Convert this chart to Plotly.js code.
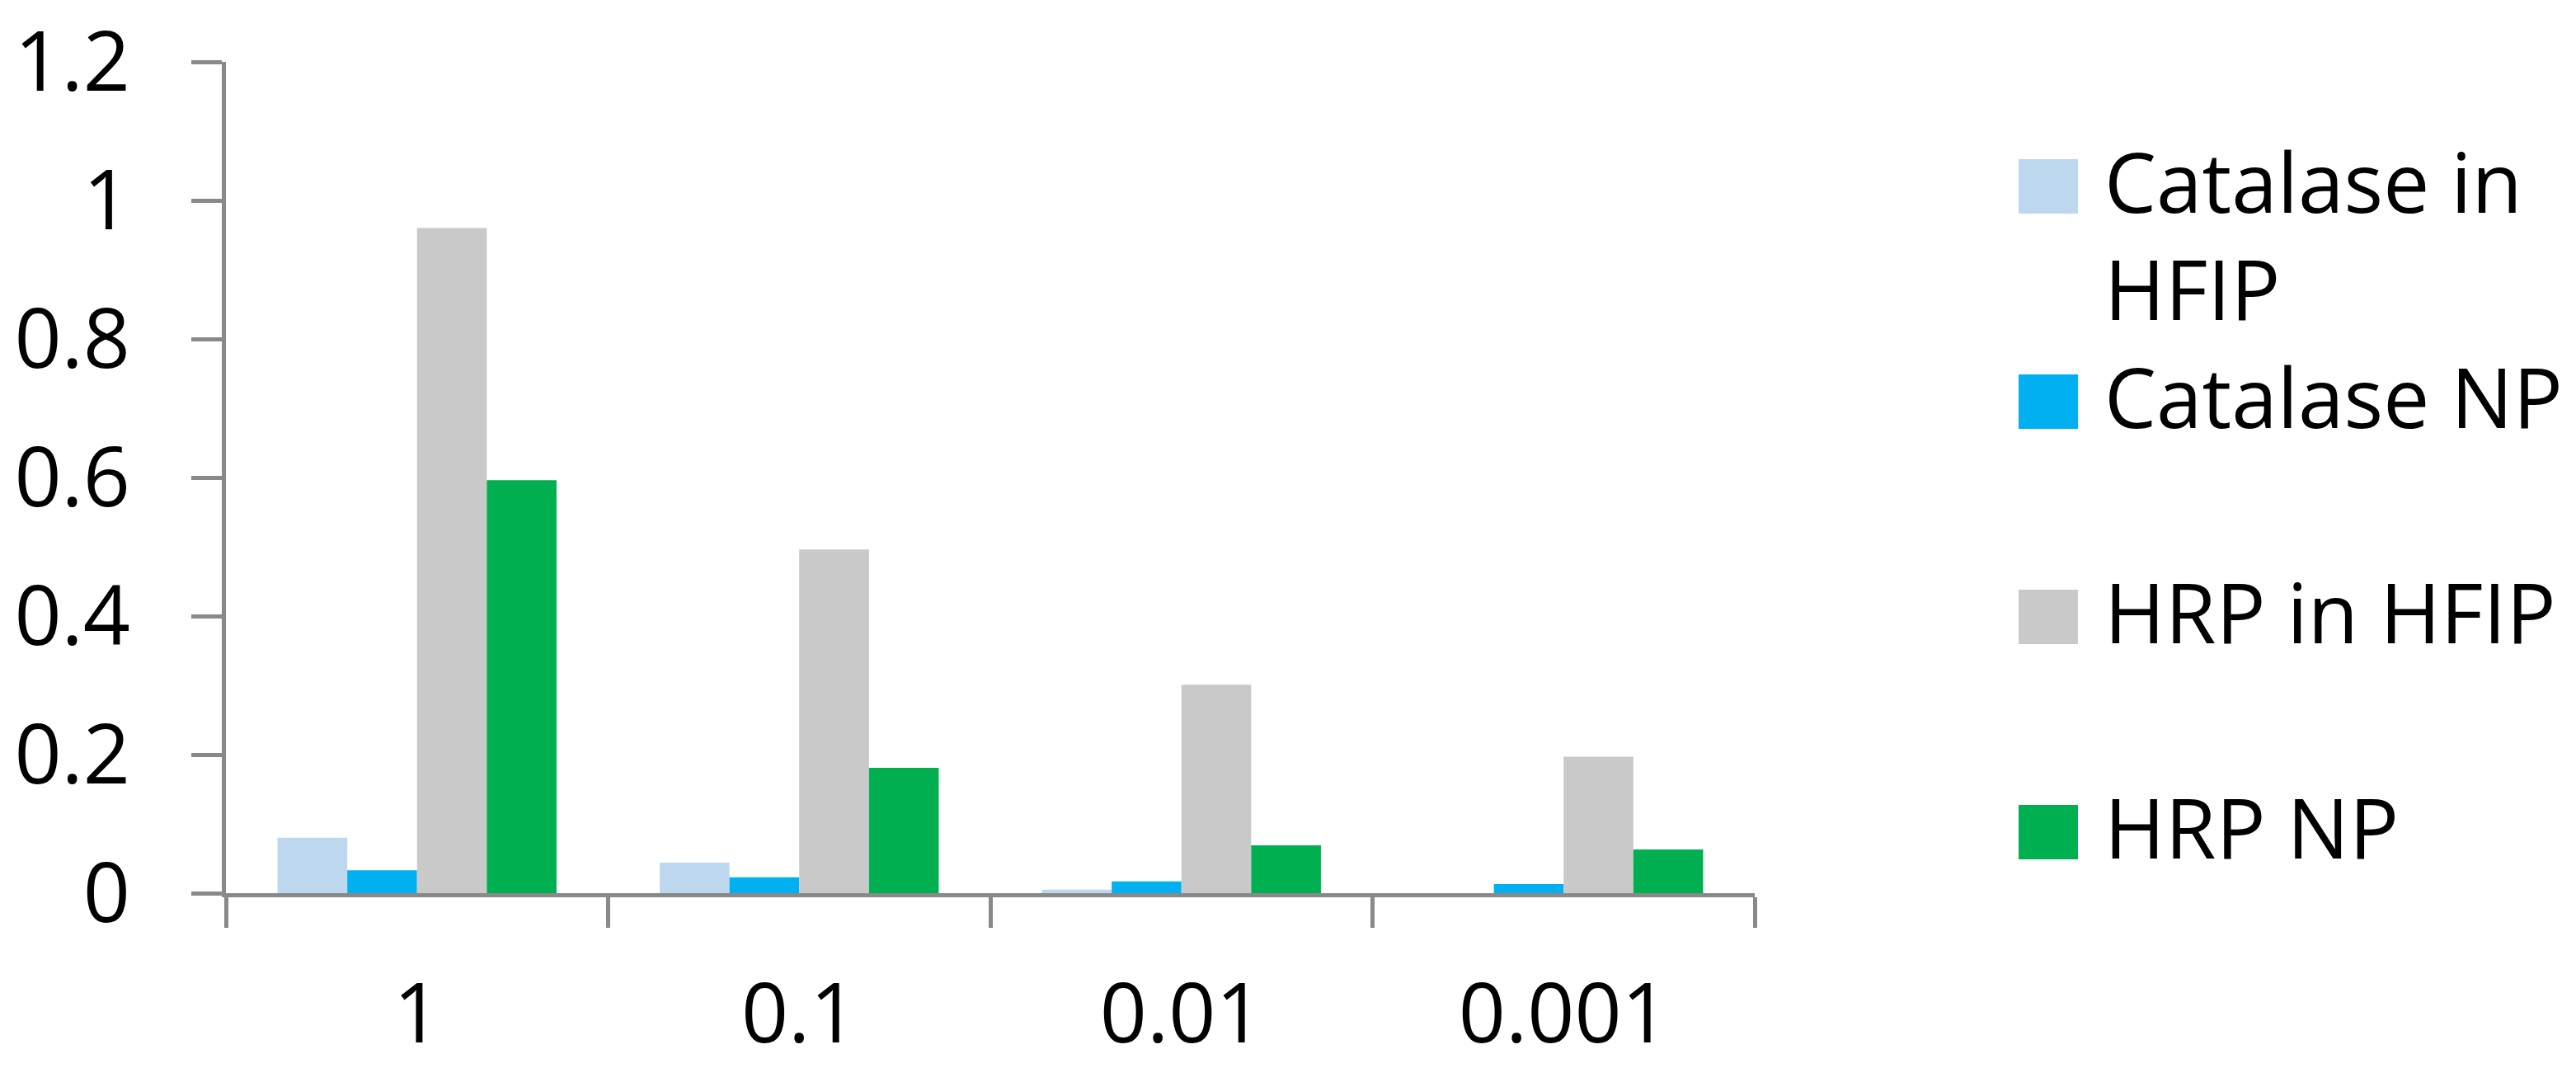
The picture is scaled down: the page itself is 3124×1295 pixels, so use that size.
<!DOCTYPE html>
<html>
<head>
<meta charset="utf-8">
<script src="https://cdn.plot.ly/plotly-3.0.1.min.js"></script>
<style>
  html, body { margin: 0; padding: 0; background: #fff; }
  #grafico { width: 3124px; height: 1295px; }
</style>
</head>
<body>
<div id="grafico"></div>
<script>
  // datos
  let categorias = ['1', '0.1', '0.01', '0.001'];
  let nombres = ['Catalase in<br>HFIP', 'Catalase NP', 'HRP in HFIP', 'HRP NP'];
  let catalasaHFIP = [0.08, 0.044, 0.005, 0];
  let catalasaNP = [0.033, 0.023, 0.017, 0.013];
  let hrpHFIP = [0.96, 0.496, 0.301, 0.197];
  let hrpNP = [0.596, 0.181, 0.069, 0.063];
  let colores = ['#BDD7EE', '#00B0F0', '#C9C9C9', '#00B050'];

  let series = [catalasaHFIP, catalasaNP, hrpHFIP, hrpNP];

  const W = 3124, H = 1295;
  const ml = 274, mr = 996, mt = 75, mb = 212;
  const pw = W - ml - mr, ph = H - mt - mb;
  const gris = '#898989';
  const fuente = 'Open Sans, sans-serif';

  // pixeles de la pagina -> coordenadas paper
  function px(x) { return (x - ml) / pw; }
  function py(y) { return (H - mb - y) / ph; }

  const trazas = series.map((vals, i) => ({
    type: 'bar',
    x: categorias,
    y: vals,
    name: nombres[i],
    marker: { color: colores[i], line: { width: 0 } },
    showlegend: false,
    hoverinfo: 'skip'
  }));

  // leyenda dibujada a mano: cuadros grandes como en Excel
  const shapes = [], annotations = [];
  nombres.forEach((nombre, i) => {
    const top = 193 + i * 261;
    shapes.push({
      type: 'rect', xref: 'paper', yref: 'paper',
      x0: px(2448), x1: px(2520), y0: py(top + 66), y1: py(top),
      fillcolor: colores[i], line: { width: 0 }
    });
    annotations.push({
      xref: 'paper', yref: 'paper',
      x: px(2550), y: py(top - 44),
      xanchor: 'left', yanchor: 'top', align: 'left',
      text: nombre, showarrow: false,
      font: { family: fuente, size: 100, color: '#000' }
    });
  });

  let layout = {
    width: W,
    height: H,
    margin: { l: ml, r: mr, t: mt, b: mb },
    paper_bgcolor: '#fff',
    plot_bgcolor: '#fff',
    barmode: 'group',
    bargap: 0.27,
    bargroupgap: 0,
    font: { family: fuente, size: 100, color: '#000' },
    xaxis: {
      type: 'category',
      showline: true, linecolor: gris, linewidth: 5,
      ticks: 'outside', tickson: 'boundaries',
      ticklen: 37, tickwidth: 5, tickcolor: gris,
      ticklabelstandoff: 56,
      showgrid: false, zeroline: false,
      tickfont: { family: fuente, size: 100, color: '#000' }
    },
    yaxis: {
      range: [0, 1.2], dtick: 0.2, tick0: 0,
      showline: true, linecolor: gris, linewidth: 5,
      ticks: 'outside', ticklen: 37, tickwidth: 5, tickcolor: gris,
      ticklabelstandoff: 54,
      showgrid: false, zeroline: false,
      tickfont: { family: fuente, size: 100, color: '#000' }
    },
    shapes: shapes,
    annotations: annotations
  };

  Plotly.newPlot('grafico', trazas, layout, { displayModeBar: false, staticPlot: true });
</script>
</body>
</html>
